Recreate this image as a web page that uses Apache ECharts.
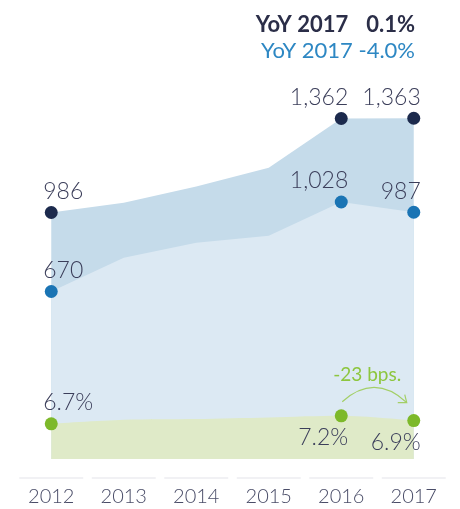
<!DOCTYPE html>
<html>
<head>
<meta charset="utf-8">
<style>
  html, body { margin: 0; padding: 0; background: #ffffff; }
  #chart { width: 460px; height: 509px; }
</style>
<script src="https://cdn.jsdelivr.net/npm/echarts@6/dist/echarts.min.js"></script>
</head>
<body>
<div id="chart"></div>
<script>
// Years on the horizontal axis
const years = ['2012', '2013', '2014', '2015', '2016', '2017'];
// Total volume (dark series)
const totalValues = [986, 1025, 1090, 1165, 1362, 1363];
// Sub-volume (blue series)
const partValues = [670, 805, 865, 893, 1028, 987];
// Rate in percent (green series)
const rateValues = [6.7, 6.95, 7.0, 7.1, 7.2, 6.9];
// Points that carry a marker and a label
const markedIdx = [0, 4, 5];
const bpsText = '-23 bps.';

const FONT = 'Lato';
const TEXT = '#3b3e5a';
const NAVY = '#1c2a4d';
const BLUE = '#1a74b4';
const GREEN = '#7db92a';
const ARC = '#a3cf66';

const last = years.length - 1;
const yoyTotal = ((totalValues[last] - totalValues[last - 1]) / totalValues[last - 1] * 100).toFixed(1);
const yoyPart = ((partValues[last] - partValues[last - 1]) / partValues[last - 1] * 100).toFixed(1);

function fmtNum(v) {
  return v.toLocaleString('en-US');
}

// Build per-point items: markers only on selected years, labels left of
// the first point and right-aligned on the later ones.
function points(values, fmt, below) {
  return values.map((v, i) => {
    const marked = markedIdx.indexOf(i) >= 0;
    const first = i === 0;
    const under = below && !first;
    return {
      value: v,
      symbolSize: marked ? 13 : 0,
      label: {
        show: marked,
        position: under ? 'bottom' : 'top',
        distance: under ? 4 : 3,
        align: first ? 'left' : 'right',
        offset: first ? [-8, 0] : [7, 0],
        formatter: fmt(v),
        fontFamily: FONT,
        fontWeight: 300,
        fontSize: 23,
        color: TEXT
      }
    };
  });
}

const chart = echarts.init(document.getElementById('chart'), null, { renderer: 'canvas' });

chart.setOption({
  animation: false,
  backgroundColor: '#ffffff',
  title: [
    {
      right: 40, top: 9,
      text: '{a|YoY ' + years[last] + '}{b|' + yoyTotal + '%}',
      textStyle: {
        rich: {
          a: { fontFamily: FONT, fontWeight: 'bold', fontSize: 22, color: '#2b2e48' },
          b: { fontFamily: FONT, fontWeight: 'bold', fontSize: 22, color: '#2b2e48', padding: [0, 0, 0, 18] }
        }
      }
    },
    {
      right: 40, top: 35,
      text: 'YoY ' + years[last] + ' ' + yoyPart + '%',
      textStyle: { fontFamily: FONT, fontWeight: 'normal', fontSize: 22, color: '#2d87c3' }
    }
  ],
  grid: { left: 15, right: 10, top: 59, bottom: 50 },
  xAxis: {
    type: 'category',
    data: years,
    boundaryGap: true,
    axisLine: { show: false },
    axisTick: { show: false },
    axisLabel: {
      margin: 18,
      formatter: v => '{ln| }\n{yr|' + v + '}',
      rich: {
        ln: { width: 64, height: 1, lineHeight: 2, fontSize: 1, backgroundColor: '#e4e4ea' },
        yr: { fontFamily: FONT, fontWeight: 300, fontSize: 20, lineHeight: 36, color: '#4a4d68' }
      }
    }
  },
  yAxis: [
    { type: 'value', min: 0, max: 1600, show: false, splitLine: { show: false } },
    { type: 'value', min: 4.5, max: 29.5, show: false, splitLine: { show: false } }
  ],
  series: [
    {
      name: 'Total',
      type: 'line',
      data: points(totalValues, fmtNum, false),
      symbol: 'circle',
      itemStyle: { color: NAVY },
      lineStyle: { width: 0 },
      areaStyle: { color: '#c5dbea', opacity: 1 },
      z: 2
    },
    {
      name: 'Part',
      type: 'line',
      data: points(partValues, fmtNum, false),
      symbol: 'circle',
      itemStyle: { color: BLUE },
      lineStyle: { width: 0 },
      areaStyle: { color: '#dce9f3', opacity: 1 },
      z: 3
    },
    {
      name: 'Rate',
      type: 'line',
      yAxisIndex: 1,
      smooth: 0.3,
      data: points(rateValues, v => v.toFixed(1) + '%', true),
      symbol: 'circle',
      itemStyle: { color: GREEN },
      lineStyle: { width: 0 },
      areaStyle: { color: '#dfeac8', opacity: 1, origin: 'start' },
      z: 4,
      markPoint: {
        silent: true,
        symbol: 'circle',
        symbolSize: 0,
        data: [{ coord: [4, rateValues[4]] }],
        label: {
          show: true,
          position: 'inside',
          offset: [26, -41],
          formatter: bpsText,
          fontFamily: FONT,
          fontSize: 19,
          color: '#8dc63f'
        }
      }
    }
  ]
});

// Curved arrow from the 2016 rate marker to the 2017 one, placed in
// data space above the two points.
const rateAxes = { xAxisIndex: 0, yAxisIndex: 1 };
const p0 = chart.convertToPixel(rateAxes, [4, rateValues[4]]);
const p2 = chart.convertToPixel(rateAxes, [5, rateValues[5]]);
const sx = p0[0] + 1, sy = p0[1] - 14;
const ex = p2[0] - 7, ey = p2[1] - 18;
const cx = (sx + ex) / 2, cy = Math.min(sy, ey) - 29;

chart.setOption({
  graphic: [
    {
      type: 'bezierCurve',
      silent: true,
      z: 100,
      shape: { x1: sx, y1: sy, x2: ex, y2: ey, cpx1: cx, cpy1: cy },
      style: { stroke: ARC, lineWidth: 1.2, fill: null }
    },
    {
      type: 'polyline',
      silent: true,
      z: 100,
      shape: { points: [[ex - 2, ey - 8], [ex, ey], [ex - 9, ey]] },
      style: { stroke: ARC, lineWidth: 1.2, fill: null }
    }
  ]
});
</script>
</body>
</html>
